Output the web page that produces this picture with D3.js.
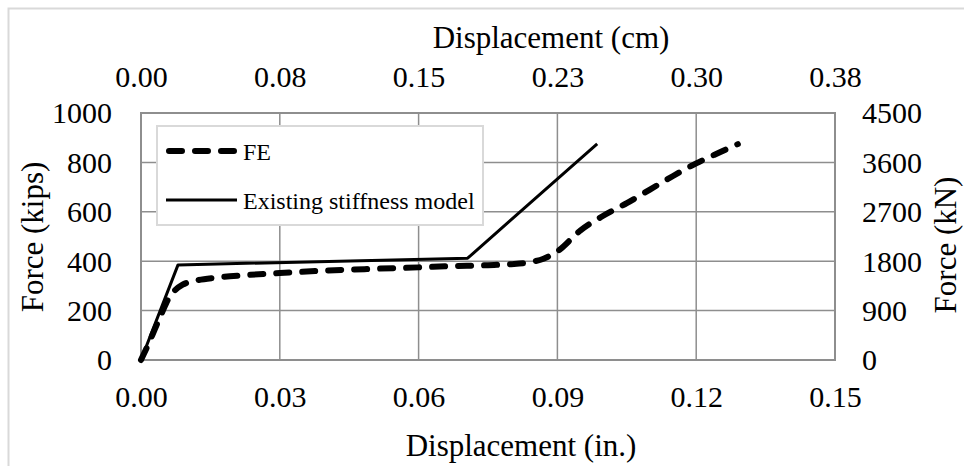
<!DOCTYPE html>
<html>
<head>
<meta charset="utf-8">
<script src="https://cdn.jsdelivr.net/npm/d3@7/dist/d3.min.js"></script>
<style>
  html, body { margin: 0; padding: 0; background: #fff; }
  svg { display: block; font-family: "Liberation Serif", "Times New Roman", serif; }
</style>
</head>
<body>
<svg id="chart" width="964" height="466"></svg>
<script>
// Force-displacement response: finite element result vs. existing stiffness model
const feDisp  = [0, 0.0015, 0.003, 0.0045, 0.006, 0.0075, 0.009, 0.012, 0.016, 0.02, 0.03, 0.04, 0.05, 0.06, 0.067, 0.075, 0.08, 0.084, 0.087, 0.09, 0.095, 0.1, 0.105, 0.11, 0.115, 0.12, 0.125, 0.129];
const feForce = [0, 60, 125, 190, 250, 285, 305, 322, 333, 340, 352, 362, 369, 375, 380, 384, 388, 396, 410, 440, 525, 585, 635, 690, 745, 796, 840, 874];

const modelDisp  = [0, 0.008, 0.0706, 0.0986];
const modelForce = [0, 385, 412, 875];

const xTicksIn   = [0, 0.03, 0.06, 0.09, 0.12, 0.15];
const yTicksKips = [0, 200, 400, 600, 800, 1000];
const yTicksKN   = [0, 900, 1800, 2700, 3600, 4500];
const IN_TO_CM = 2.54;

const seriesNames = ["FE", "Existing stiffness model"];

const svg = d3.select("#chart");
const plot = { left: 141, right: 835, top: 113, bottom: 360 };
const serif = "Liberation Serif, Times New Roman, serif";

// outer chart frame
svg.append("rect")
  .attr("x", 8.5).attr("y", 8.5)
  .attr("width", 1000).attr("height", 500)
  .attr("fill", "#fff").attr("stroke", "#d9d9d9").attr("stroke-width", 2);

const x = d3.scaleLinear().domain([0, 0.15]).range([plot.left, plot.right]);
const xCm = d3.scaleLinear().domain([0, 0.15 * IN_TO_CM]).range([plot.left, plot.right]);
const y = d3.scaleLinear().domain([0, 1000]).range([plot.bottom, plot.top]);
const yKN = d3.scaleLinear().domain([0, 4500]).range([plot.bottom, plot.top]);

const gridColor = "#8e8e8e";

// gridlines
const grid = svg.append("g");
grid.selectAll("line.v").data(xTicksIn).join("line")
  .attr("x1", d => x(d)).attr("x2", d => x(d))
  .attr("y1", plot.top).attr("y2", plot.bottom)
  .attr("stroke", gridColor).attr("stroke-width", 1.5);
grid.selectAll("line.h").data(yTicksKips).join("line")
  .attr("x1", plot.left).attr("x2", plot.right)
  .attr("y1", d => y(d)).attr("y2", d => y(d))
  .attr("stroke", gridColor).attr("stroke-width", 1.5);
svg.append("rect")
  .attr("x", plot.left).attr("y", plot.top)
  .attr("width", plot.right - plot.left).attr("height", plot.bottom - plot.top)
  .attr("fill", "none").attr("stroke", gridColor).attr("stroke-width", 2);

function styleAxis(g) {
  g.attr("font-family", serif).attr("font-size", 30);
  g.select(".domain").remove();
  g.selectAll(".tick line").remove();
  g.selectAll("text").attr("fill", "#000");
}

// bottom axis (in.)
svg.append("g")
  .attr("transform", `translate(0,${plot.bottom})`)
  .call(d3.axisBottom(x).tickValues(xTicksIn).tickFormat(d3.format(".2f")).tickSize(0).tickPadding(0))
  .call(styleAxis)
  .selectAll("text").attr("dy", null).attr("y", 47);

// top axis (cm)
svg.append("g")
  .attr("transform", `translate(0,${plot.top})`)
  .call(d3.axisTop(xCm).tickValues(xTicksIn.map(v => v * IN_TO_CM)).tickFormat(d3.format(".2f")).tickSize(0).tickPadding(0))
  .call(styleAxis)
  .selectAll("text").attr("dy", null).attr("y", -26);

// left axis (kips)
svg.append("g")
  .attr("transform", `translate(${plot.left},0)`)
  .call(d3.axisLeft(y).tickValues(yTicksKips).tickFormat(d3.format("d")).tickSize(0).tickPadding(0))
  .call(styleAxis)
  .selectAll("text").attr("x", -29).attr("dy", "0.33em");

// right axis (kN)
svg.append("g")
  .attr("transform", `translate(${plot.right},0)`)
  .call(d3.axisRight(yKN).tickValues(yTicksKN).tickFormat(d3.format("d")).tickSize(0).tickPadding(0))
  .call(styleAxis)
  .selectAll("text").attr("x", 27).attr("dy", "0.33em");

// axis titles
function title(txt, tx, ty, rot) {
  svg.append("text").text(txt)
    .attr("text-anchor", "middle")
    .attr("font-family", serif).attr("font-size", 31).attr("fill", "#000")
    .attr("transform", `translate(${tx},${ty})` + (rot ? ` rotate(${rot})` : ""));
}
title("Displacement (cm)", 551, 48, 0);
title("Displacement (in.)", 521, 456, 0);
title("Force (kips)", 43, 237, -90);
title("Force (kN)", 956, 245, -90);

// series
const feLine = d3.line().x(d => x(d[0])).y(d => y(d[1])).curve(d3.curveMonotoneX);
const modelLine = d3.line().x(d => x(d[0])).y(d => y(d[1]));

svg.append("path")
  .datum(modelDisp.map((d, i) => [d, modelForce[i]]))
  .attr("d", modelLine)
  .attr("fill", "none").attr("stroke", "#000").attr("stroke-width", 3)
  .attr("stroke-linejoin", "round");

svg.append("path")
  .datum(feDisp.map((d, i) => [d, feForce[i]]))
  .attr("d", feLine)
  .attr("fill", "none").attr("stroke", "#000").attr("stroke-width", 6)
  .attr("stroke-dasharray", "13,13").attr("stroke-linecap", "round");

// legend
const legend = svg.append("g");
legend.append("rect")
  .attr("x", 157).attr("y", 126).attr("width", 326).attr("height", 99)
  .attr("fill", "#fff").attr("stroke", "#d9d9d9").attr("stroke-width", 2);
const legendRows = [
  { name: seriesNames[0], width: 6, dash: "13,13", y: 151 },
  { name: seriesNames[1], width: 3, dash: null, y: 200 }
];
legendRows.forEach(r => {
  legend.append("line")
    .attr("x1", r.dash ? 169 : 166).attr("x2", r.dash ? 234 : 237)
    .attr("y1", r.y).attr("y2", r.y)
    .attr("stroke", "#000").attr("stroke-width", r.width)
    .attr("stroke-dasharray", r.dash).attr("stroke-linecap", r.dash ? "round" : "butt");
  legend.append("text").text(r.name)
    .attr("x", 243).attr("y", r.y + 9)
    .attr("font-family", serif).attr("font-size", 24).attr("fill", "#000");
});
</script>
</body>
</html>
